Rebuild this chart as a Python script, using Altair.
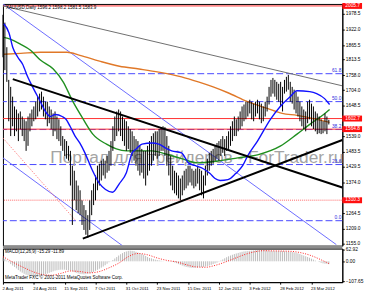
import altair as alt
import pandas as pd

# ---------------- data ----------------
date_labels = ["2 Aug 2011", "24 Aug 2011", "15 Sep 2011", "7 Oct 2011", "31 Oct 2011",
               "23 Nov 2011", "15 Dec 2011", "12 Jan 2012", "3 Feb 2012", "28 Feb 2012", "23 Mar 2012"]
date_bar = [0, 16, 32, 48, 64, 80, 96, 112, 128, 144, 160]

price_ticks = [1978.5, 1922.0, 1865.5, 1813.5, 1758.0, 1704.0, 1648.5, 1539.0,
               1483.5, 1429.5, 1374.0, 1264.5, 1209.0, 1155.0]

bar_high = [1974, 1946, 1858, 1741, 1716, 1681, 1646, 1635, 1621, 1628,
            1610, 1600, 1593, 1610, 1621, 1635, 1646, 1663, 1681, 1692,
            1699, 1681, 1663, 1663, 1646, 1635, 1621, 1628, 1610, 1600,
            1575, 1540, 1529, 1522, 1505, 1487, 1434, 1416, 1381, 1363,
            1346, 1310, 1293, 1275, 1257, 1310, 1346, 1370, 1399, 1434,
            1441, 1452, 1459, 1452, 1469, 1487, 1522, 1575, 1610, 1628,
            1635, 1628, 1610, 1600, 1593, 1575, 1565, 1557, 1540, 1529,
            1522, 1505, 1494, 1487, 1487, 1505, 1522, 1540, 1550, 1557,
            1557, 1565, 1572, 1575, 1572, 1540, 1505, 1469, 1434, 1416,
            1409, 1399, 1388, 1399, 1416, 1423, 1434, 1434, 1423, 1416,
            1423, 1434, 1423, 1416, 1399, 1434, 1459, 1480, 1487, 1494,
            1505, 1515, 1522, 1529, 1540, 1529, 1540, 1557, 1575, 1593,
            1610, 1600, 1610, 1628, 1646, 1653, 1663, 1663, 1670, 1663,
            1656, 1663, 1670, 1663, 1656, 1646, 1663, 1681, 1716, 1741,
            1748, 1741, 1734, 1727, 1734, 1716, 1741, 1752, 1759, 1734,
            1716, 1706, 1699, 1681, 1663, 1646, 1635, 1628, 1663, 1670,
            1656, 1646, 1628, 1621, 1610, 1600, 1593, 1621, 1610, 1598.2]
bar_low = [1822, 1776, 1734, 1593, 1540, 1575, 1540, 1557, 1522, 1565,
           1540, 1522, 1487, 1505, 1557, 1575, 1593, 1600, 1610, 1628,
           1635, 1610, 1600, 1575, 1586, 1565, 1540, 1557, 1529, 1522,
           1505, 1487, 1469, 1459, 1452, 1363, 1222, 1310, 1275, 1264,
           1257, 1222, 1204, 1187, 1176, 1204, 1257, 1293, 1310, 1346,
           1363, 1381, 1399, 1388, 1409, 1416, 1434, 1487, 1522, 1540,
           1557, 1540, 1522, 1505, 1487, 1494, 1480, 1469, 1452, 1434,
           1416, 1399, 1409, 1388, 1363, 1399, 1416, 1434, 1452, 1469,
           1459, 1469, 1487, 1487, 1469, 1434, 1399, 1363, 1346, 1335,
           1328, 1317, 1310, 1328, 1346, 1353, 1363, 1374, 1363, 1353,
           1360, 1370, 1346, 1328, 1317, 1363, 1399, 1416, 1434, 1441,
           1452, 1459, 1452, 1469, 1480, 1469, 1487, 1494, 1505, 1522,
           1540, 1540, 1557, 1565, 1575, 1593, 1600, 1610, 1621, 1600,
           1593, 1610, 1621, 1600, 1586, 1593, 1610, 1628, 1653, 1681,
           1692, 1681, 1670, 1663, 1646, 1628, 1692, 1699, 1706, 1663,
           1656, 1635, 1621, 1610, 1593, 1575, 1565, 1557, 1586, 1600,
           1575, 1565, 1557, 1547, 1550, 1547, 1550, 1557, 1547, 1581.5]

ma_blue_bar = [0.5, 3.1, 5.1, 7.7, 10.2, 12.8, 15.9, 19.4, 22, 24.6, 27.1, 30.7, 32.7, 34.8,
               37.4, 39.9, 42.5, 46, 50.1, 53.2, 56.8, 60.4, 64, 67, 69.1, 72.1, 77.3, 80.8,
               84.4, 87.5, 92.6, 96.2, 99.8, 103.9, 107.4, 110, 112.6, 116.7, 120.7, 124.3,
               126.9, 132, 138.7, 143.8, 148.9, 152.5, 159.1, 162.7, 166.8, 169.4]
ma_blue = [1942, 1910, 1857, 1822, 1797, 1752, 1709, 1663, 1628, 1610, 1617, 1610, 1600, 1575,
           1540, 1515, 1480, 1423, 1370, 1349, 1339, 1370, 1409, 1480, 1494, 1511, 1515, 1511,
           1497, 1487, 1480, 1444, 1434, 1423, 1406, 1388, 1381, 1384, 1406, 1434,
           1469, 1522, 1600, 1646, 1681, 1702, 1699, 1692, 1674, 1653]

ma_green_bar = [0.5, 4.1, 9.2, 14.3, 19.4, 26.1, 31.2, 36.3, 41.4, 46.6, 53.7, 58.8, 64,
                70.6, 77.3, 84.4, 92.6, 101.3, 111.5, 121.8, 132, 143.8, 152.5, 159.1, 166.3, 169.4]
ma_green = [1893, 1886, 1868, 1847, 1812, 1780, 1734, 1663, 1603, 1547, 1511, 1494, 1487,
            1487, 1487, 1476, 1459, 1444, 1451, 1462, 1473, 1504, 1547, 1582, 1617, 1635]

ma_orange_bar = [0.5, 9.2, 19.4, 33.3, 39.9, 50.1, 60.4, 70.6, 80.8, 92.6, 101.3, 109,
                 116.7, 126.9, 137.1, 144.8, 152.5, 162.7, 169.4]
ma_orange = [1833, 1836, 1840, 1840, 1829, 1808, 1790, 1780, 1769, 1752, 1734, 1716,
             1695, 1663, 1639, 1621, 1614, 1600, 1589]

fib_price = [1763.2, 1663.3, 1563.4, 1438.1, 1237.2]
fib_names = ["61.8", "50.0", "38.2", "23.6", "0.0"]

red_line_price = [2005.7, 1602.7, 1564.8]
pink_line_price = [1310.3]
tag_price = [2005.7, 1602.7, 1564.8, 1310.3]
tag_text = ["2005.7", "1602.7", "1564.8", "1310.3"]

gray_tl_bar, gray_tl_price = [0, 176], [2005.7, 1719.8]
down_tl_bar, down_tl_price = [5.1, 176], [1744, 1356]
up_tl_bar, up_tl_price = [41.4, 176], [1173, 1526]
chan1_bar, chan1_price = [0, 172.9], [2012.8, 1151.5]
chan2_bar, chan2_price = [0, 61.9], [1462, 1148]
reddot_bar, reddot_price = [0, 37.9], [1533, 1236]

macd_main = [20, 12, 4, -5, -15, -23, -30, -38, -47, -55,
             -61, -67, -72, -76, -80, -81, -83, -85, -84, -82,
             -78, -74, -70, -66, -62, -58, -54, -50, -48, -46,
             -45, -45, -45, -47, -48, -50, -54, -58, -62, -65,
             -68, -69, -70, -69, -67, -65, -61, -57, -51, -46,
             -40, -34, -28, -21, -13, -5, -1, 7, 15, 23,
             31, 38, 44, 50, 53, 56, 57, 56, 55, 51,
             47, 43, 39, 35, 29, 23, 18, 16, 12, 9,
             7, 5, 3, 1, 0, 1, 2, -1, -3, -6,
             -10, -15, -19, -23, -27, -30, -32, -34, -35, -35,
             -34, -33, -32, -31, -30, -28, -26, -23, -19, -15,
             -11, -7, -2, 4, 10, 16, 22, 27, 31, 35,
             39, 42, 45, 48, 51, 53, 54, 55, 56, 57,
             58, 59, 60, 60, 60, 60, 59, 58, 57, 56,
             55, 55, 55, 55, 55, 55, 54, 53, 52, 51,
             50, 48, 46, 43, 39, 35, 31, 27, 23, 19,
             14, 9, 4, 0, -4, -8, -11, -13, -14, -15.29]
macd_sig_bar = [0, 10, 20, 25, 30, 35, 40, 45, 50, 55, 60, 65, 70, 75, 80, 85, 90, 95,
                100, 105, 110, 115, 120, 125, 130, 135, 140, 145, 150, 155, 160, 165, 169]
macd_sig = [25, -30, -70, -75, -65, -52, -55, -62, -55, -35, -10, 25, 42, 35, 18, 5, -3, -18,
            -30, -32, -22, -5, 15, 35, 50, 57, 56, 55, 53, 45, 30, 8, -11.89]
macd_ticks = [62.92, 0.0, -107.65]

# ---------------- layout ----------------
W, H, MH = 344, 245, 34
FONT = "Liberation Sans"
FS = 4.6      # small chart texts
AFS = 4.9     # price-axis labels
DFS = 4.3     # date labels
xs = alt.Scale(domain=[0, 176], nice=False, zero=False)
ys = alt.Scale(domain=[1147.9, 2012.8], nice=False, zero=False)
ms = alt.Scale(domain=[-112.0, 68.3], nice=False, zero=False)

bars = pd.DataFrame({"i": list(range(len(bar_high))), "hi": bar_high, "lo": bar_low})


def seg(bar, price, name):
    return pd.DataFrame({"i": bar, "p": price, "id": name})


yaxis = alt.Axis(orient="right", values=price_ticks, format=".1f", title=None, grid=False,
                 labelFontSize=AFS, tickSize=2, labelPadding=1, labelOverlap=False,
                 labelFont=FONT, labelColor="black", tickColor="black", domainColor="black")


def Y(f):
    return alt.Y(f, scale=ys, axis=yaxis, title=None)


X = alt.X("i:Q", scale=xs, axis=None)

water = alt.Chart(pd.DataFrame({"t": ["Портал для трейдеров - ForTrader.ru"]})).mark_text(
    font=FONT, fontSize=17.5, color="#a4a4a4", align="left", baseline="middle"
).encode(x=alt.value(48), y=alt.value(156), text="t:N")

fib = alt.Chart(pd.DataFrame({"p": fib_price, "n": fib_names}))
fib_rules = fib.mark_rule(color="#4646ff", strokeDash=[7, 3], strokeWidth=1).encode(y=Y("p:Q"))
fib_text = fib.mark_text(font=FONT, fontSize=AFS, color="#3030e0", align="right",
                         baseline="bottom", dy=-1).encode(
    x=alt.value(W - 1), y=Y("p:Q"), text="n:N")

red_rules = alt.Chart(pd.DataFrame({"p": red_line_price})).mark_rule(
    color="#ff3030", strokeWidth=1).encode(y=Y("p:Q"))
pink_rules = alt.Chart(pd.DataFrame({"p": pink_line_price})).mark_rule(
    color="#ff9a9a", strokeWidth=1.5, strokeDash=[1, 1]).encode(y=Y("p:Q"))

chan = alt.Chart(pd.concat([seg(chan1_bar, chan1_price, "c1"), seg(chan2_bar, chan2_price, "c2")]))
chan_lines = chan.mark_line(color="#6c6cff", strokeWidth=1, clip=True).encode(
    x=X, y=Y("p:Q"), detail="id:N")
reddot = alt.Chart(seg(reddot_bar, reddot_price, "r")).mark_line(
    color="#ff6a6a", strokeWidth=1, strokeDash=[1, 1.5], clip=True).encode(x=X, y=Y("p:Q"))
gray_tl = alt.Chart(seg(gray_tl_bar, gray_tl_price, "g")).mark_line(
    color="#6e6e6e", strokeWidth=1, clip=True).encode(x=X, y=Y("p:Q"))


def ma(bar, vals, color):
    return alt.Chart(pd.DataFrame({"i": bar, "p": vals})).mark_line(
        color=color, strokeWidth=1.4, interpolate="monotone", clip=True).encode(x=X, y=Y("p:Q"))


price_bars = alt.Chart(bars).mark_rule(color="#000000", strokeWidth=1).encode(
    x=X, y=Y("hi:Q"), y2="lo:Q")

black_tl = alt.Chart(pd.concat([seg(down_tl_bar, down_tl_price, "d"), seg(up_tl_bar, up_tl_price, "u")])
                     ).mark_line(color="#000000", strokeWidth=2, clip=True).encode(
    x=X, y=Y("p:Q"), detail="id:N")

title = alt.Chart(pd.DataFrame({"t": ["XAUUSD,Daily  1596.2 1598.2 1581.5 1583.9"]})).mark_text(
    font=FONT, fontSize=FS, color="black", align="left", baseline="middle"
).encode(x=alt.value(3), y=alt.value(4.5), text="t:N")

tags = alt.Chart(pd.DataFrame({"p": tag_price, "t": tag_text}))
tag_box = tags.mark_rule(color="#ff1010", strokeWidth=6, clip=False).encode(
    y=Y("p:Q"), x=alt.value(W), x2=alt.value(W + 20))
tag_txt = tags.mark_text(font=FONT, fontSize=AFS, color="white", align="left",
                         baseline="middle", clip=False).encode(
    y=Y("p:Q"), x=alt.value(W + 3), text="t:N")

sep = alt.Chart(pd.DataFrame({"a": [0]})).mark_rule(color="#8c8c8c", strokeWidth=3, clip=False).encode(
    x=alt.value(0), x2=alt.value(W), y=alt.value(H + 1.5))

main = alt.layer(
    fib_rules, water, red_rules, pink_rules, chan_lines, reddot, gray_tl,
    ma(ma_orange_bar, ma_orange, "#e07828"),
    ma(ma_green_bar, ma_green, "#1f8f1f"),
    price_bars,
    ma(ma_blue_bar, ma_blue, "#1010ff"),
    black_tl, fib_text, title, tag_box, tag_txt, sep,
).properties(width=W, height=H)

# ---------------- MACD panel ----------------
mdf = pd.DataFrame({"i": list(range(len(macd_main))), "v": macd_main, "z": 0.0})
label_expr = "[" + ",".join("'%s'" % d for d in date_labels) + "][round(datum.value/16)]"
xaxis = alt.Axis(orient="bottom", values=date_bar, labelExpr=label_expr, title=None, grid=False,
                 labelFontSize=DFS, labelFont=FONT, labelAlign="left", labelOffset=-1,
                 tickSize=2, labelPadding=2, labelOverlap=False, labelFlush=False,
                 labelColor="black", tickColor="black", domainColor="black")
maxis = alt.Axis(orient="right", values=macd_ticks, format=".2f", title=None, grid=False,
                 labelFontSize=AFS, tickSize=2, labelPadding=1, labelOverlap=False,
                 labelFont=FONT, labelColor="black", tickColor="black", domainColor="black")

MX = alt.X("i:Q", scale=xs, axis=xaxis, title=None)


def MY(f):
    return alt.Y(f, scale=ms, axis=maxis, title=None)


hist = alt.Chart(mdf).mark_rule(color="#bdbdbd", strokeWidth=1).encode(
    x=MX, y=MY("v:Q"), y2="z:Q")
sig = alt.Chart(pd.DataFrame({"i": macd_sig_bar, "v": macd_sig})).mark_line(
    color="#ff2020", strokeWidth=1, strokeDash=[1, 1.5], interpolate="monotone").encode(
    x=MX, y=MY("v:Q"))
mlabel = alt.Chart(pd.DataFrame({"t": ["MACD(12,26,9) -15.29 -11.89"]})).mark_text(
    font=FONT, fontSize=FS, color="black", align="left", baseline="middle"
).encode(x=alt.value(2), y=alt.value(3), text="t:N")
mcopy = alt.Chart(pd.DataFrame({"t": ["MetaTrader FXC © 2001-2011 MetaQuotes Software Corp."]})).mark_text(
    font=FONT, fontSize=FS, color="black", align="left", baseline="middle"
).encode(x=alt.value(2), y=alt.value(30), text="t:N")

macd = alt.layer(hist, sig, mlabel, mcopy).properties(width=W, height=MH)

chart = alt.vconcat(main, macd, spacing=3, bounds="flush").properties(
    padding={"left": 0, "top": 0, "right": 0, "bottom": 0}, background="white"
).configure_view(stroke="#000000", strokeWidth=1).configure_axis(labelOverlap=False)

chart.save("out.html", embed_options={"renderer": "svg", "actions": False})
